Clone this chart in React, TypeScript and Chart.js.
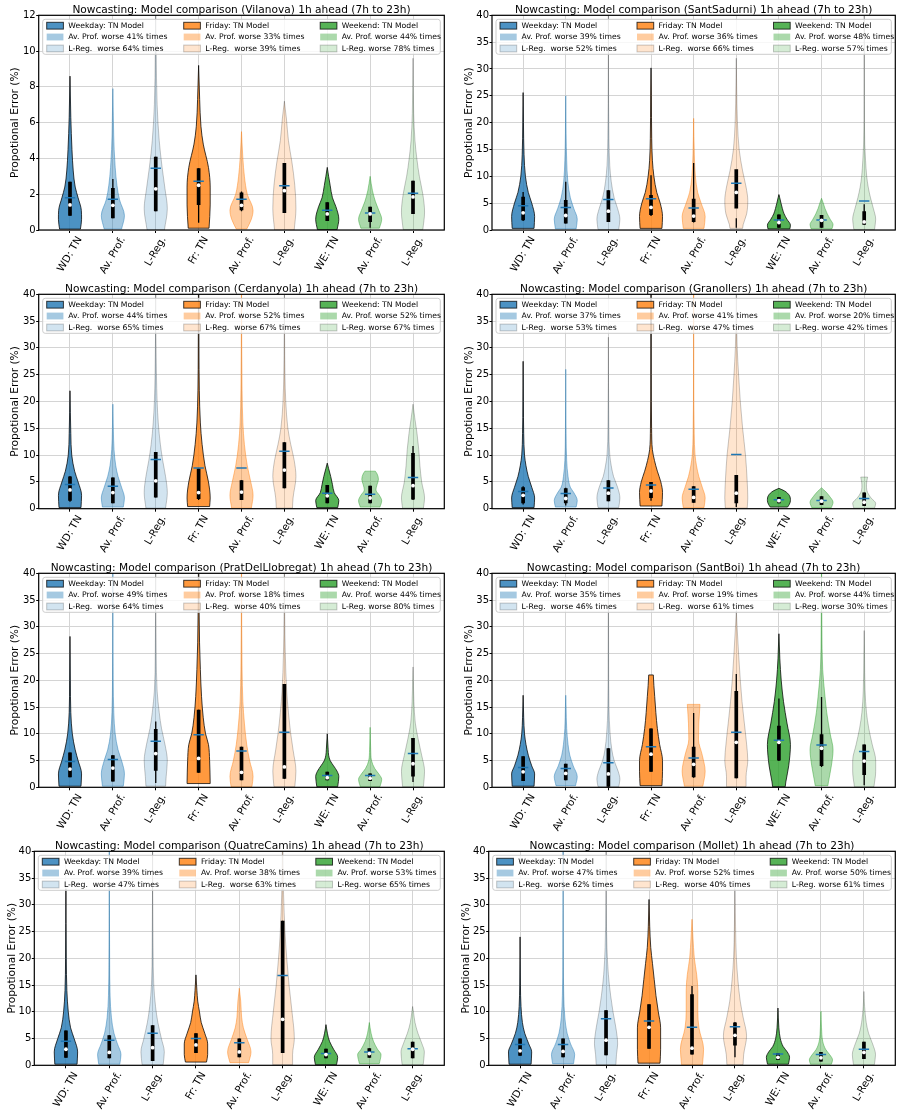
import React, { useEffect, useRef } from 'react';
import { Chart, registerables } from 'chart.js';

Chart.register(...registerables);

const FONT = '"DejaVu Sans", "Liberation Sans", sans-serif';

// ---------------- data ----------------
const STATIONS = ['Vilanova', 'SantSadurni', 'Cerdanyola', 'Granollers', 'PratDelLlobregat', 'SantBoi', 'QuatreCamins', 'Mollet'];
const CATEGORIES = ['WD: TN', 'Av. Prof.', 'L-Reg.', 'Fr: TN', 'Av. Prof.', 'L-Reg.', 'WE: TN', 'Av. Prof.', 'L-Reg.'];
const POSITIONS = [1, 2, 3, 4, 5, 6, 7, 8, 9];
const Y_MAX = [12, 40, 40, 40, 40, 40, 40, 40];
const Y_STEP = [2, 5, 5, 5, 5, 5, 5, 5];
const GROUP_NAMES = ['Weekday', 'Friday', 'Weekend'];
const AV_PROF_WORSE = [[41, 33, 44], [39, 36, 48], [44, 52, 52], [37, 41, 20], [49, 18, 44], [35, 19, 44], [39, 38, 53], [47, 52, 50]];
const L_REG_WORSE = [[64, 39, 78], [52, 66, 57], [65, 67, 67], [53, 47, 42], [64, 40, 80], [46, 61, 30], [47, 63, 65], [62, 40, 61]];

const MEDIANS = [
  [1.4, 1.38, 2.3, 2.5, 1.38, 2.2, 0.9, 0.9, 1.85],
  [3.2, 2.7, 3.5, 4.2, 2.6, 7, 1.4, 1.8, 1.5],
  [3.5, 3, 5.2, 3, 3.1, 7.2, 2.4, 2, 4.3],
  [2.5, 1.9, 2.9, 3.3, 2.1, 2.9, 1.5, 1.4, 1.2],
  [3.4, 3.6, 6.3, 5.4, 2.8, 3.8, 1.8, 1.7, 4.4],
  [2.9, 2.6, 2.5, 6.2, 4.3, 8.4, 8.4, 7.3, 4.9],
  [3, 2.4, 3.3, 3.8, 2.5, 8.6, 2, 2.2, 3],
  [2.7, 2.6, 4.7, 7.1, 3.2, 5.6, 1.5, 1.4, 2.4],
];
const MEANS = [
  [1.8, 1.72, 3.45, 2.72, 1.72, 2.48, 1.1, 0.95, 2.05],
  [4.5, 4.2, 5.7, 5.8, 4.1, 8.7, 1.85, 1.85, 5.4],
  [4.5, 4.2, 9.2, 7.6, 7.6, 10.7, 2.9, 2.7, 5.8],
  [3.2, 2.85, 3.85, 4.4, 3.65, 10.1, 1.65, 1.55, 1.9],
  [4.8, 5.2, 8.6, 9.8, 6.8, 10.3, 2.2, 2.2, 6.3],
  [3.7, 3.5, 4.6, 7.6, 5.5, 10.3, 8.8, 7.9, 6.7],
  [4.5, 4.7, 6, 5, 4.2, 16.8, 2.2, 2.5, 3.1],
  [3.9, 3.9, 8.7, 8.3, 7.1, 7.2, 2.1, 2, 3],
];
const Q1S = [
  [0.8, 0.65, 1.05, 1.4, 1.1, 0.95, 0.5, 0.45, 0.9],
  [1.8, 1.2, 1.5, 2.8, 1.5, 4, 0.4, 0.4, 1],
  [1.5, 1, 2.1, 1.8, 1.6, 3.8, 1, 1, 1.7],
  [1, 1, 1.4, 2, 1.1, 1, 1, 0.7, 0.5],
  [1.9, 1.1, 3.1, 2.7, 1.3, 1.6, 1.3, 1.2, 2],
  [1.2, 1.3, 0.1, 2.9, 1.9, 1.7, 5, 4, 2.3],
  [1.4, 1.3, 0.8, 2.3, 1.5, 2.3, 1.3, 1.4, 1.3],
  [1.8, 1.5, 1.9, 3.1, 2, 3.7, 1, 0.7, 1.2],
];
const Q3S = [
  [2.7, 2.35, 4.1, 3.45, 2.1, 3.75, 1.55, 1.3, 2.75],
  [6.2, 5.6, 7.4, 6.5, 5.8, 11.3, 2.9, 2.8, 3.5],
  [6, 5.8, 10.6, 7.5, 5.3, 12.4, 4.4, 4.3, 10.4],
  [4, 3.8, 5.3, 5, 4.2, 6.3, 2.2, 2.3, 3],
  [6.5, 6, 10.9, 14.5, 7.6, 19.3, 2.9, 2.6, 9.2],
  [5.8, 4.4, 7.3, 11, 7.6, 18, 11.5, 9.9, 8],
  [6.5, 5.6, 7.5, 6, 5, 27, 3.1, 3.2, 4.4],
  [5, 5, 10.3, 11.4, 13.3, 8, 2.3, 2.5, 4.4],
];
const WHISK_LO = [
  [0.8, 0.65, 1.05, 0.4, 1.05, 0.95, 0.5, 0.12, 0.9],
  [1.7, 1.2, 1.5, 2.6, 1.4, 0.4, 0.4, 0.4, 1],
  [1.3, 1, 2.1, 1.6, 1.6, 3.8, 1, 1, 1.6],
  [0.8, 0.6, 1.4, 1.5, 1.1, 0.3, 1, 0.7, 0.5],
  [1.9, 1.1, 0.8, 2.7, 1.3, 1.6, 1.3, 1.2, 1],
  [1.2, 1.3, 0.1, 2.9, 1.8, 1.7, 4.9, 3.8, 0.4],
  [1.4, 1.3, 0.8, 2.3, 1.5, 2.3, 1.3, 1.4, 1.3],
  [1.8, 1.5, 1.9, 3.1, 2, 1.5, 1, 0.7, 1.2],
];
const WHISK_HI = [
  [2.7, 2.85, 4.1, 3.45, 2.15, 3.75, 1.55, 1.3, 2.75],
  [7.1, 9, 7.4, 10.2, 12.5, 2.2, 2.9, 2.8, 4.8],
  [6.1, 5.8, 10.6, 7.5, 5.3, 12.4, 4.4, 4.3, 11.7],
  [4.2, 3.9, 5.3, 5, 4.2, 6.3, 2.2, 2.3, 3],
  [6.5, 6, 12.3, 14.5, 7.6, 19.3, 2.9, 2.6, 9.2],
  [5.8, 4.4, 7.3, 11, 13.9, 21.2, 16.6, 16.9, 8],
  [6.5, 5.6, 7.5, 6, 5, 27, 3.1, 3.2, 4.4],
  [5, 5, 10.3, 11.4, 14.8, 8.1, 2.3, 2.5, 4.4],
];

// violin outlines: [value, relative half-width] from the lowest to the highest value
const SHAPES_VILANOVA = [
  [[0.05, 0.9], [0.6, 1], [1.1, 0.98], [1.8, 0.7], [2.4, 0.45], [3.3, 0.28], [4.5, 0.17], [6.3, 0.07], [8.6, 0]],
  [[0.05, 0.75], [0.8, 1], [1.7, 0.57], [2.5, 0.35], [3.5, 0.2], [4.5, 0.11], [6, 0.05], [7.9, 0]],
  [[0, 0.75], [1.2, 1], [2.3, 0.8], [3.5, 0.55], [5, 0.3], [7, 0.12], [10, 0.04], [14, 0]],
  [[0.1, 0.9], [1.4, 1], [2.4, 1], [3.5, 0.85], [4.8, 0.4], [5.8, 0.2], [7.3, 0.09], [9.2, 0]],
  [[0.05, 0.45], [0.6, 0.85], [1.1, 1], [2, 0.5], [3, 0.25], [4, 0.12], [5.5, 0]],
  [[0, 0.85], [1.2, 1], [2.5, 0.9], [3.8, 0.65], [5, 0.35], [6.2, 0.18], [7.2, 0]],
  [[0.02, 0.85], [0.6, 1], [1.3, 0.75], [1.8, 0.45], [2.5, 0.25], [3, 0.12], [3.5, 0]],
  [[0.1, 0.8], [0.6, 1], [1.1, 0.75], [1.6, 0.45], [2.2, 0.2], [3, 0]],
  [[0.02, 0.85], [1, 1], [2, 0.85], [3, 0.55], [4, 0.33], [5, 0.17], [6.5, 0.06], [9.6, 0]],
];
const SHAPES_SANTSADURNI = [
  [[0.3, 0.95], [2.5, 1], [5, 0.75], [7, 0.45], [10, 0.2], [14, 0.08], [20, 0.03], [25.6, 0]],
  [[0.2, 0.9], [2, 1], [4, 0.7], [6, 0.4], [9, 0.18], [13, 0.08], [18, 0.03], [25, 0]],
  [[0.1, 0.9], [2, 1], [4, 0.8], [6, 0.5], [9, 0.25], [12, 0.12], [17, 0.05], [30, 0.01], [45, 0]],
  [[0.3, 0.95], [2.5, 1], [5, 0.8], [7, 0.5], [10, 0.25], [13, 0.12], [17, 0.06], [25, 0.03], [30.2, 0]],
  [[0.3, 0.9], [2.5, 1], [5, 0.65], [7, 0.35], [10, 0.15], [14, 0.06], [20.8, 0]],
  [[0.3, 0.55], [1, 0.6], [3, 0.9], [5.5, 1], [8, 0.85], [11, 0.55], [15, 0.25], [20, 0.1], [27, 0.03], [32, 0]],
  [[0.2, 0.95], [0.9, 1], [2, 0.7], [3, 0.45], [4, 0.3], [5, 0.18], [6, 0.07], [6.6, 0]],
  [[0.2, 0.9], [1, 1], [2, 0.75], [3, 0.5], [4, 0.3], [5, 0.15], [5.9, 0]],
  [[0.1, 0.9], [2, 1], [4, 0.8], [6, 0.55], [8, 0.35], [10, 0.22], [13, 0.12], [16, 0.05], [25, 0.01], [45, 0]],
];
const SHAPES_CERDANYOLA = [
  [[0.2, 0.95], [2.5, 1], [5, 0.7], [7, 0.4], [10, 0.15], [14, 0.07], [18, 0.03], [22, 0]],
  [[0.3, 0.9], [2, 1], [4, 0.75], [6, 0.45], [8, 0.25], [11, 0.1], [15, 0.04], [19.5, 0]],
  [[0.1, 0.85], [3, 1], [6, 0.85], [9, 0.6], [12, 0.4], [16, 0.22], [20, 0.12], [25, 0.06], [32, 0.02], [45, 0]],
  [[0.4, 0.95], [2, 1], [5, 0.85], [8, 0.55], [12, 0.3], [16, 0.15], [22, 0.06], [30, 0.03], [45, 0.01]],
  [[0.1, 0.85], [2.5, 1], [5, 0.8], [8, 0.5], [12, 0.25], [16, 0.12], [22, 0.05], [30, 0.02], [45, 0]],
  [[0.1, 0.7], [2, 0.75], [6, 1], [9, 0.85], [12, 0.55], [15, 0.3], [20, 0.12], [25, 0.05], [32, 0.02], [40, 0]],
  [[0.2, 0.9], [1.5, 1], [3, 0.6], [4.5, 0.45], [6, 0.3], [7.5, 0.12], [8.5, 0]],
  [[0.3, 0.85], [1.5, 1], [2.5, 0.8], [3.5, 0.5], [4.5, 0.6], [5.5, 0.72], [6.5, 0.6], [7, 0.45]],
  [[0.1, 0.9], [2, 1], [5, 0.75], [8, 0.6], [11, 0.5], [14, 0.35], [17, 0.15], [19.5, 0]],
];
const SHAPES_GRANOLLERS = [
  [[0.2, 0.95], [2, 1], [4, 0.75], [6, 0.45], [8, 0.25], [10, 0.12], [14, 0.05], [20, 0.02], [27.5, 0]],
  [[0.3, 0.9], [1.5, 1], [3, 0.7], [4, 0.4], [6, 0.2], [9, 0.08], [14, 0.03], [26, 0]],
  [[0.2, 0.9], [2, 1], [4, 0.8], [6, 0.45], [8, 0.25], [10, 0.12], [15, 0.04], [32, 0]],
  [[0.5, 0.95], [3, 1], [5, 0.85], [7, 0.55], [9, 0.3], [11, 0.12], [15, 0.05], [25, 0.02], [45, 0.01]],
  [[0.2, 0.9], [2, 1], [4, 0.75], [6, 0.45], [8, 0.25], [10, 0.12], [14, 0.05], [25, 0.01], [45, 0]],
  [[0.1, 0.95], [2, 1], [5, 0.95], [10, 0.8], [15, 0.55], [20, 0.35], [25, 0.2], [30, 0.08], [35, 0.03], [40, 0]],
  [[0.3, 0.75], [0.8, 0.9], [1.5, 1], [2.5, 0.9], [3.3, 0.5], [3.8, 0]],
  [[0.2, 0.85], [1.2, 1], [2.3, 0.7], [3.2, 0.35], [3.9, 0]],
  [[0.1, 0.9], [1, 1], [2, 0.6], [3, 0.3], [4, 0.2], [5, 0.22], [5.9, 0.3]],
];
const SHAPES_PRAT = [
  [[0.2, 0.95], [2.5, 1], [5, 0.7], [7, 0.45], [10, 0.2], [14, 0.07], [20, 0.03], [28.2, 0]],
  [[0.2, 0.9], [2.5, 1], [5, 0.75], [7, 0.45], [10, 0.2], [14, 0.08], [20, 0.03], [30, 0.01], [45, 0]],
  [[0.2, 0.85], [2, 0.9], [5, 1], [8, 0.8], [11, 0.5], [14, 0.3], [18, 0.12], [25, 0.04], [45, 0]],
  [[0.7, 1], [5, 0.95], [8, 0.85], [10, 0.6], [13, 0.4], [17, 0.25], [22, 0.15], [27, 0.08], [35, 0.03], [45, 0.01]],
  [[0.1, 0.9], [2, 1], [5, 0.7], [8, 0.45], [12, 0.25], [16, 0.12], [22, 0.05], [30, 0.02], [45, 0]],
  [[0.1, 0.9], [3, 1], [7, 0.75], [10, 0.55], [14, 0.35], [18, 0.2], [25, 0.08], [32, 0.03], [45, 0]],
  [[0.1, 0.9], [2, 1], [3, 0.85], [4, 0.55], [5, 0.25], [6, 0.12], [7, 0.08], [10, 0]],
  [[0.1, 0.85], [1.5, 1], [2.5, 0.75], [3.5, 0.4], [5, 0.12], [7, 0.05], [11.2, 0]],
  [[0.1, 0.9], [3, 1], [6, 0.75], [9, 0.45], [12, 0.2], [16, 0.08], [20, 0.03], [22.5, 0]],
];
const SHAPES_SANTBOI = [
  [[0.2, 0.95], [2.5, 1], [4, 0.75], [6, 0.45], [8, 0.25], [10, 0.12], [13, 0.05], [17.2, 0]],
  [[0.3, 0.85], [2, 1], [4, 0.65], [6, 0.35], [8, 0.2], [11, 0.08], [15, 0.03], [17.2, 0]],
  [[0.1, 0.9], [1.5, 1], [3, 0.85], [5, 0.5], [7, 0.3], [10, 0.15], [15, 0.05], [25, 0.02], [45, 0]],
  [[0.3, 0.95], [3, 1], [5, 1], [8, 0.75], [11, 0.55], [14, 0.42], [17, 0.32], [19, 0.25], [21, 0.2]],
  [[0.2, 0.8], [3, 1], [6, 0.75], [9, 0.42], [12, 0.45], [15.5, 0.55]],
  [[0.1, 0.85], [2, 0.85], [5, 1], [8, 0.9], [12, 0.7], [16, 0.5], [20, 0.35], [25, 0.2], [30, 0.07], [33, 0]],
  [[0.1, 0.55], [1, 0.6], [4, 0.85], [8, 1], [12, 0.7], [16, 0.4], [20, 0.2], [24, 0.08], [28.7, 0]],
  [[0.3, 0.55], [1, 0.6], [4, 0.85], [7, 1], [10, 0.75], [14, 0.45], [17, 0.3], [22, 0.1], [30, 0.03], [45, 0]],
  [[0.1, 0.85], [3, 1], [5, 1], [8, 0.7], [11, 0.4], [14, 0.2], [18, 0.08], [25, 0.03], [29.3, 0]],
];
const SHAPES_QUATRECAMINS = [
  [[0.2, 0.95], [2.5, 1], [5, 0.7], [7, 0.4], [10, 0.2], [14, 0.08], [20, 0.03], [33, 0]],
  [[0.2, 0.9], [2, 1], [4, 0.7], [6, 0.4], [9, 0.18], [13, 0.07], [20, 0.03], [30, 0.01], [45, 0]],
  [[0.1, 0.9], [2.5, 1], [5, 0.75], [8, 0.45], [11, 0.25], [15, 0.1], [22, 0.04], [32, 0.01], [45, 0]],
  [[0.6, 0.9], [2, 1], [4, 1], [6, 0.75], [8, 0.45], [10, 0.3], [12, 0.15], [14, 0.08], [16.9, 0]],
  [[0.5, 0.8], [2.5, 1], [5, 0.65], [7, 0.35], [9, 0.2], [12, 0.12], [14.4, 0]],
  [[0.1, 0.85], [2, 0.85], [5, 1], [10, 0.8], [15, 0.55], [20, 0.35], [25, 0.2], [32, 0.08], [40, 0.03], [45, 0.01]],
  [[0.1, 0.9], [1.5, 1], [3, 0.65], [4.5, 0.3], [6, 0.12], [7.6, 0]],
  [[0.3, 0.85], [2, 1], [3, 0.7], [4.5, 0.35], [6, 0.15], [8, 0]],
  [[0.1, 0.9], [2.5, 1], [4, 0.8], [6, 0.45], [8, 0.2], [10, 0.07], [11, 0]],
];
const SHAPES_MOLLET = [
  [[0.2, 0.95], [2.5, 1], [4, 0.75], [6, 0.4], [8, 0.2], [11, 0.08], [15, 0.03], [24, 0]],
  [[0.3, 0.9], [2, 1], [4, 0.65], [6, 0.35], [9, 0.15], [13, 0.06], [20, 0.02], [45, 0]],
  [[0.1, 0.85], [2, 0.9], [4, 1], [7, 0.85], [10, 0.6], [13, 0.4], [17, 0.2], [22, 0.08], [30, 0.02], [45, 0]],
  [[0.4, 0.95], [3, 1], [7, 1], [10, 0.8], [13, 0.6], [16, 0.45], [19, 0.3], [22, 0.15], [26, 0.06], [31, 0]],
  [[0.1, 0.9], [3, 1], [7, 0.6], [10, 0.5], [14, 0.5], [17, 0.4], [20, 0.2], [24, 0.08], [27.3, 0]],
  [[0.1, 0.7], [2, 0.75], [5.5, 1], [9, 0.7], [12, 0.45], [16, 0.25], [20, 0.12], [26, 0.05], [33, 0]],
  [[0.2, 0.9], [1.5, 1], [2.5, 0.8], [3.5, 0.45], [5, 0.2], [7, 0.08], [10.7, 0]],
  [[0.2, 0.9], [1, 1], [2, 0.75], [3, 0.4], [4.5, 0.15], [7, 0.05], [10.1, 0]],
  [[0.1, 0.9], [2, 1], [4, 0.75], [6, 0.4], [8, 0.2], [11, 0.06], [13.8, 0]],
];
const SHAPES = [SHAPES_VILANOVA, SHAPES_SANTSADURNI, SHAPES_CERDANYOLA, SHAPES_GRANOLLERS, SHAPES_PRAT, SHAPES_SANTBOI, SHAPES_QUATRECAMINS, SHAPES_MOLLET];

// ---------------- layout / style ----------------
const LAYOUT = [
  { box: [0, 0, 451, 280], area: [38.7, 15.3, 450, 230], yLabelX: 15 },
  { box: [451, 0, 451, 280], area: [492, 15.3, 900.5, 230], yLabelX: 469 },
  { box: [0, 280, 451, 278], area: [38.7, 294.3, 450, 508.7], yLabelX: 15 },
  { box: [451, 280, 451, 278], area: [492, 294.3, 900.5, 508.7], yLabelX: 469 },
  { box: [0, 558, 451, 278], area: [38.7, 573.3, 450, 787.3], yLabelX: 15 },
  { box: [451, 558, 451, 278], area: [492, 573.3, 900.5, 787.3], yLabelX: 469 },
  { box: [0, 836, 451, 274], area: [34.3, 851.3, 446, 1065.3], yLabelX: 12.7 },
  { box: [451, 836, 451, 274], area: [488.7, 851.3, 897.7, 1065.3], yLabelX: 466 },
];
const BASE = [[31, 119, 180], [255, 127, 14], [44, 160, 44]];
const ALPHA = [0.8, 0.4, 0.2];
const HALF_WIDTH = 0.27;
const GRID = '#d4d4d4';

function faceColor(i: number) {
  const [r, g, b] = BASE[Math.floor(i / 3)];
  return `rgba(${r},${g},${b},${ALPHA[i % 3]})`;
}
function edgeColor(i: number) {
  const [r, g, b] = BASE[Math.floor(i / 3)];
  const k = i % 3;
  if (k === 0) return 'rgba(0,0,0,0.75)';
  if (k === 1) return `rgba(${r},${g},${b},0.45)`;
  return 'rgba(0,0,0,0.22)';
}

function tangents(v: number[], w: number[]) {
  const n = v.length;
  const d: number[] = [];
  for (let k = 0; k < n - 1; k++) d.push((w[k + 1] - w[k]) / (v[k + 1] - v[k]));
  const m: number[] = new Array(n).fill(0);
  m[0] = d[0];
  m[n - 1] = d[n - 2];
  for (let k = 1; k < n - 1; k++) m[k] = d[k - 1] * d[k] <= 0 ? 0 : (d[k - 1] + d[k]) / 2;
  for (let k = 0; k < n - 1; k++) {
    if (d[k] === 0) { m[k] = 0; m[k + 1] = 0; continue; }
    const a = m[k] / d[k], b = m[k + 1] / d[k];
    const s = a * a + b * b;
    if (s > 9) { const t = 3 / Math.sqrt(s); m[k] = t * a * d[k]; m[k + 1] = t * b * d[k]; }
  }
  return m;
}

function drawViolin(ctx: CanvasRenderingContext2D, xs: any, ys: any, pos: number, prof: number[][], i: number) {
  const v = prof.map(p => p[0]);
  const w = prof.map(p => p[1]);
  const n = v.length;
  const m = tangents(v, w);
  const X = (wid: number, sgn: number) => xs.getPixelForValue(pos + sgn * Math.max(0, wid) * HALF_WIDTH);
  const Y = (val: number) => ys.getPixelForValue(val);
  ctx.beginPath();
  ctx.moveTo(X(w[0], 1), Y(v[0]));
  for (let k = 0; k < n - 1; k++) {
    const h = v[k + 1] - v[k];
    ctx.bezierCurveTo(
      X(w[k] + m[k] * h / 3, 1), Y(v[k] + h / 3),
      X(w[k + 1] - m[k + 1] * h / 3, 1), Y(v[k + 1] - h / 3),
      X(w[k + 1], 1), Y(v[k + 1]));
  }
  ctx.lineTo(X(w[n - 1], -1), Y(v[n - 1]));
  for (let k = n - 2; k >= 0; k--) {
    const h = v[k + 1] - v[k];
    ctx.bezierCurveTo(
      X(w[k + 1] - m[k + 1] * h / 3, -1), Y(v[k + 1] - h / 3),
      X(w[k] + m[k] * h / 3, -1), Y(v[k] + h / 3),
      X(w[k], -1), Y(v[k]));
  }
  ctx.closePath();
  ctx.fillStyle = faceColor(i);
  ctx.fill();
  ctx.lineWidth = 1;
  ctx.strokeStyle = edgeColor(i);
  ctx.stroke();
}

function legendText(idx: number, g: number, k: number) {
  if (k === 0) return `${GROUP_NAMES[g]}: TN Model`;
  if (k === 1) return `Av. Prof. worse ${AV_PROF_WORSE[idx][g]}% times`;
  return g < 2 ? `L-Reg.  worse ${L_REG_WORSE[idx][g]}% times` : `L-Reg. worse ${L_REG_WORSE[idx][g]}% times`;
}

function Panel({ idx }: { idx: number }) {
  const ref = useRef<HTMLCanvasElement>(null);
  const [bx, by, bw, bh] = LAYOUT[idx].box;
  useEffect(() => {
    const canvas = ref.current;
    if (!canvas) return;
    const [aL, aT, aR, aB] = LAYOUT[idx].area;
    const L = aL - bx, T = aT - by, R = aR - bx, B = aB - by;
    const YW = 30, XH = 10;
    const yLabelX = LAYOUT[idx].yLabelX - bx;

    const plugin = {
      id: 'violinPanel',
      beforeDatasetsDraw(chart: any) {
        const { ctx, chartArea: a, scales } = chart;
        ctx.save();
        ctx.beginPath();
        ctx.rect(a.left, a.top, a.right - a.left, a.bottom - a.top);
        ctx.clip();
        SHAPES[idx].forEach((prof, i) => drawViolin(ctx, scales.x, scales.y, POSITIONS[i], prof, i));
        ctx.restore();
      },
      afterDatasetsDraw(chart: any) {
        const { ctx, chartArea: a } = chart;
        ctx.save();
        const lx = a.left + 4, ly = a.top + 4, lw = a.right - 4 - lx, lh = 35;
        ctx.beginPath();
        ctx.roundRect(lx, ly, lw, lh, 2.5);
        ctx.fillStyle = 'rgba(255,255,255,0.8)';
        ctx.fill();
        ctx.strokeStyle = '#cccccc';
        ctx.lineWidth = 1;
        ctx.stroke();
        const colX = [0, 137, 273.5];
        const rowY = [10.4, 21.7, 33.2];
        ctx.font = `7.7px ${FONT}`;
        ctx.textBaseline = 'middle';
        ctx.textAlign = 'left';
        for (let g = 0; g < 3; g++) {
          for (let k = 0; k < 3; k++) {
            const i = g * 3 + k;
            const px = a.left + 8 + colX[g];
            const py = a.top + rowY[k];
            ctx.fillStyle = faceColor(i);
            ctx.fillRect(px, py - 3.4, 16.7, 6.8);
            if (k !== 1) {
              ctx.strokeStyle = edgeColor(i);
              ctx.lineWidth = 1;
              ctx.strokeRect(px, py - 3.4, 16.7, 6.8);
            }
            ctx.fillStyle = '#000';
            ctx.fillText(legendText(idx, g, k), a.left + 29.6 + colX[g], py + 0.5);
          }
        }
        ctx.restore();
      },
      afterDraw(chart: any) {
        const { ctx, chartArea: a, scales } = chart;
        ctx.save();
        ctx.strokeStyle = '#000';
        ctx.lineWidth = 1.2;
        ctx.strokeRect(a.left, a.top, a.right - a.left, a.bottom - a.top);
        // title
        ctx.fillStyle = '#000';
        ctx.font = `10.6px ${FONT}`;
        ctx.textAlign = 'center';
        ctx.textBaseline = 'alphabetic';
        ctx.fillText(`Nowcasting: Model comparison (${STATIONS[idx]}) 1h ahead (7h to 23h)`, (a.left + a.right) / 2, a.top - 2.5);
        // y label
        ctx.save();
        ctx.translate(yLabelX, (a.top + a.bottom) / 2);
        ctx.rotate(-Math.PI / 2);
        ctx.textBaseline = 'middle';
        ctx.fillText('Propotional Error (%)', 0, 0);
        ctx.restore();
        // x tick labels (rotated 60 degrees, centred under tick)
        ctx.font = `10.3px ${FONT}`;
        ctx.textAlign = 'center';
        ctx.textBaseline = 'middle';
        POSITIONS.forEach((p, i) => {
          const px = scales.x.getPixelForValue(p);
          const tw = ctx.measureText(CATEGORIES[i]).width;
          const bbH = tw * Math.sin(Math.PI / 3) + 10.3 * Math.cos(Math.PI / 3);
          ctx.save();
          ctx.translate(px, a.bottom + 5 + bbH / 2);
          ctx.rotate(-Math.PI / 3);
          ctx.fillText(CATEGORIES[i], 0, 0);
          ctx.restore();
        });
        ctx.restore();
      },
    };

    const datasets: any[] = [
      {
        type: 'bar', label: 'range', order: 4, grouped: false, barThickness: 1.3, inflateAmount: 0,
        data: POSITIONS.map((p, i) => ({ x: p, y: [WHISK_LO[idx][i], WHISK_HI[idx][i]] })),
        backgroundColor: '#000', borderWidth: 0,
      },
      {
        type: 'bar', label: 'IQR', order: 3, grouped: false, barThickness: 3.7, inflateAmount: 0,
        data: POSITIONS.map((p, i) => ({ x: p, y: [Q1S[idx][i], Q3S[idx][i]] })),
        backgroundColor: '#000', borderWidth: 0,
      },
      {
        type: 'scatter', label: 'mean', order: 2,
        data: POSITIONS.map((p, i) => ({ x: p, y: MEANS[idx][i] })),
        pointStyle: 'line', pointRadius: 5.2, pointBorderColor: '#1f77b4', pointBorderWidth: 1.5,
        pointBackgroundColor: '#1f77b4', showLine: false,
      },
      {
        type: 'scatter', label: 'median', order: 1,
        data: POSITIONS.map((p, i) => ({ x: p, y: MEDIANS[idx][i] })),
        pointStyle: 'circle', pointRadius: 1.9, pointBackgroundColor: '#ffffff', pointBorderWidth: 0, showLine: false,
      },
    ];

    const chart = new Chart(canvas, {
      type: 'scatter',
      data: { datasets },
      options: {
        animation: false,
        responsive: false,
        events: [],
        layout: { padding: { left: L - YW, top: T, right: bw - R, bottom: bh - B - XH } },
        plugins: { legend: { display: false }, tooltip: { enabled: false }, title: { display: false } },
        scales: {
          x: {
            type: 'linear', min: 0.27, max: 9.73, offset: false,
            afterBuildTicks: (s: any) => { s.ticks = POSITIONS.map(v => ({ value: v })); },
            afterFit: (s: any) => { s.height = XH; },
            ticks: { display: false },
            grid: { color: GRID, lineWidth: 1, tickColor: '#000', tickLength: 3, drawTicks: true, offset: false },
            border: { display: false },
          },
          y: {
            type: 'linear', min: 0, max: Y_MAX[idx],
            afterFit: (s: any) => { s.width = YW; },
            ticks: { stepSize: Y_STEP[idx], font: { family: FONT, size: 10 }, color: '#000', padding: 0.5 },
            grid: { color: GRID, lineWidth: 1, tickColor: '#000', tickLength: 2.5, drawTicks: true },
            border: { display: false },
          },
        },
      } as any,
      plugins: [plugin],
    });
    return () => chart.destroy();
  }, [idx]);
  return (
    <canvas
      ref={ref}
      width={bw}
      height={bh}
      style={{ position: 'absolute', left: bx, top: by, width: bw, height: bh }}
    />
  );
}

export default function App() {
  return (
    <div style={{ position: 'absolute', left: 0, top: 0, width: 902, height: 1110, background: '#fff' }}>
      {LAYOUT.map((_, i) => <Panel key={i} idx={i} />)}
    </div>
  );
}
